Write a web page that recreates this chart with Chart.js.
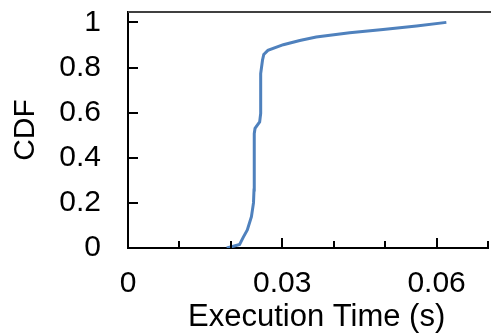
<!DOCTYPE html>
<html>
<head>
<meta charset="utf-8">
<script src="https://cdn.jsdelivr.net/npm/chart.js@4/dist/chart.umd.min.js"></script>
<style>
  html, body { margin: 0; padding: 0; background: #fff; }
</style>
</head>
<body>
<canvas id="myChart" width="491" height="336"></canvas>
<script>
// execution time (s) and CDF
var execTime = [0.0192, 0.0205, 0.0217, 0.0224, 0.0232, 0.0240, 0.0244, 0.0245, 0.02455, 0.02455, 0.0247, 0.0256, 0.0258, 0.0258, 0.0258, 0.02615, 0.0264, 0.0272, 0.0302, 0.0334, 0.0366, 0.0431, 0.0496, 0.0561, 0.0619];
var cdf = [0, 0.008, 0.016, 0.047, 0.08, 0.139, 0.20, 0.257, 0.40, 0.507, 0.53, 0.559, 0.596, 0.70, 0.773, 0.832, 0.858, 0.876, 0.901, 0.920, 0.935, 0.954, 0.968, 0.984, 1.0];
var xTickLabels = ['0', '0.03', '0.06'];
var yTickLabels = ['0', '0.2', '0.4', '0.6', '0.8', '1'];

var points = execTime.map(function (t, i) { return {x: t, y: cdf[i]}; });

function xLabel(v) {
    var k = Math.round(v / 0.03);
    if (Math.abs(v - k * 0.03) < 1e-6 && k < xTickLabels.length) return xTickLabels[k];
    return '';
}

// inward tick marks + top frame line
var frame = {
    id: 'frame',
    afterDraw: function (chart) {
        var ctx = chart.ctx, a = chart.chartArea;
        var xs = chart.scales.x, ys = chart.scales.y;
        ctx.save();
        ctx.strokeStyle = '#000';
        ctx.lineWidth = 2;
        xs.ticks.forEach(function (t) {
            var px = Math.round(xs.getPixelForValue(t.value));
            var len = xLabel(t.value) ? 10 : 7;
            ctx.beginPath();
            ctx.moveTo(px, a.bottom);
            ctx.lineTo(px, a.bottom - len);
            ctx.stroke();
        });
        ys.ticks.forEach(function (t) {
            var py = Math.round(ys.getPixelForValue(t.value));
            ctx.beginPath();
            ctx.moveTo(a.left, py);
            ctx.lineTo(a.left + 10, py);
            ctx.stroke();
        });
        ctx.strokeStyle = '#404040';
        ctx.beginPath();
        ctx.moveTo(a.left, a.top);
        ctx.lineTo(chart.width, a.top);
        ctx.stroke();
        ctx.restore();
    }
};

Chart.defaults.font.family = '"Liberation Sans", Arial, sans-serif';
Chart.defaults.color = '#000';

var ctx = document.getElementById('myChart').getContext('2d');
var myChart = new Chart(ctx, {
    type: 'scatter',
    data: {
        datasets: [{
            data: points,
            showLine: true,
            borderColor: '#4f81bd',
            borderWidth: 3,
            pointRadius: 0,
            tension: 0
        }]
    },
    plugins: [frame],
    options: {
        responsive: false,
        animation: false,
        layout: { padding: { left: 0, right: 3, top: 12, bottom: 0 } },
        plugins: {
            legend: { display: false },
            tooltip: { enabled: false }
        },
        scales: {
            x: {
                type: 'linear',
                min: 0,
                max: 0.07,
                grid: { display: false, drawTicks: false },
                border: { color: '#000', width: 2 },
                ticks: {
                    stepSize: 0.01,
                    autoSkip: false,
                    maxRotation: 0,
                    padding: 18,
                    font: { size: 30 },
                    callback: function (v) { return xLabel(v); }
                },
                title: {
                    display: true,
                    text: '  Execution Time (s)',
                    font: { size: 31 },
                    padding: { top: 0, bottom: 0 }
                },
                afterFit: function (s) {
                    s.height = 88;
                    s.paddingLeft = 0;
                    s.paddingRight = 0;
                }
            },
            y: {
                min: 0,
                max: 1.046,
                grid: { display: false, drawTicks: false },
                border: { color: '#000', width: 2 },
                ticks: {
                    stepSize: 0.2,
                    includeBounds: false,
                    padding: 27,
                    font: { size: 30 },
                    callback: function (v) { return yTickLabels[Math.round(v / 0.2)]; }
                },
                title: {
                    display: true,
                    text: 'CDF',
                    font: { size: 30 },
                    padding: { top: 8, bottom: 0 }
                },
                afterFit: function (s) {
                    s.width = 128;
                    s.paddingTop = 0;
                    s.paddingBottom = 0;
                }
            }
        }
    }
});
</script>
</body>
</html>
